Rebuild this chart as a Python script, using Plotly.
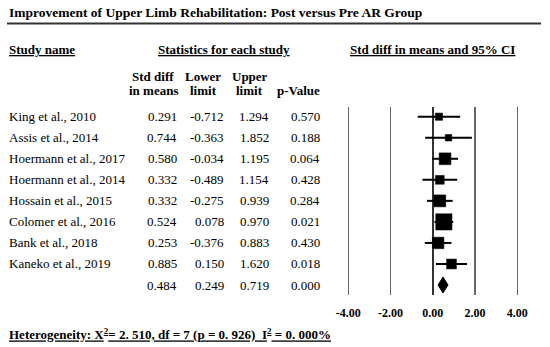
import numpy as np
import plotly.graph_objects as go

# ---------------- data ----------------
studies = ["King et al., 2010", "Assis et al., 2014", "Hoermann et al., 2017",
           "Hoermann et al., 2014", "Hossain et al., 2015", "Colomer et al., 2016",
           "Bank et al., 2018", "Kaneko et al., 2019"]
std_diff = [0.291, 0.744, 0.580, 0.332, 0.332, 0.524, 0.253, 0.885]
lower = [-0.712, -0.363, -0.034, -0.489, -0.275, 0.078, -0.376, 0.150]
upper = [1.294, 1.852, 1.195, 1.154, 0.939, 0.970, 0.883, 1.620]
p_values = [0.570, 0.188, 0.064, 0.428, 0.284, 0.021, 0.430, 0.018]
summary = {"est": 0.484, "lower": 0.249, "upper": 0.719, "p": 0.000}
x_ticks = [-4, -2, 0, 2, 4]

title = "Improvement of Upper Limb Rehabilitation: Post versus Pre AR Group"
footer = "Heterogeneity: X<sup>2</sup>= 2. 510, df = 7 (p = 0. 926)  I<sup>2</sup> = 0. 000%"

# ---------------- layout helpers ----------------
W, H = 550, 347
FONT = "Liberation Serif"
px = lambda v: v / W
py = lambda v: 1 - v / H

est = np.array(std_diff)
lo = np.array(lower)
hi = np.array(upper)
n = len(studies)
rows = np.arange(n)
se = (hi - lo) / 3.92
weights = 1 / se**2
sizes = 3.7 * np.sqrt(weights)

fig = go.Figure()

# CI lines + weighted squares
fig.add_trace(go.Scatter(
    x=est, y=rows, mode="markers",
    marker=dict(symbol="square", size=sizes, color="black", opacity=1,
                line=dict(width=0.5, color="black")),
    error_x=dict(type="data", symmetric=False, array=hi - est, arrayminus=est - lo,
                 thickness=2, width=0, color="black"),
    hoverinfo="skip", showlegend=False))

# summary diamond
dh = 0.38
fig.add_trace(go.Scatter(
    x=[summary["lower"], summary["est"], summary["upper"], summary["est"], summary["lower"]],
    y=[n, n - dh, n, n + dh, n],
    mode="lines", fill="toself", fillcolor="black", line=dict(color="black", width=1),
    hoverinfo="skip", showlegend=False))

ann = []
def txt(x, y, s, size=13, bold=False, xanchor="left", yref="paper", underline=False):
    t = s
    if underline:
        t = "<u>" + t + "</u>"
    if bold:
        t = "<b>" + t + "</b>"
    ann.append(dict(x=px(x), y=(y if yref == "y" else py(y)), xref="paper", yref=yref,
                    text=t, showarrow=False, xanchor=xanchor, yanchor="middle",
                    font=dict(family=FONT, size=size, color="black"),
                    borderpad=0, borderwidth=0))

txt(8.5, 13, title, size=13.5, bold=True)
txt(8.5, 50, "Study name", bold=True, underline=True)
txt(223.5, 50, "Statistics for each study", bold=True, xanchor="center", underline=True)
txt(432, 50, "Std diff in means and 95% CI", bold=True, xanchor="center", underline=True)

txt(153, 76, "Std diff", bold=True, xanchor="center")
txt(153, 90.5, "in means", bold=True, xanchor="center")
txt(203, 76, "Lower", bold=True, xanchor="center")
txt(203, 90.5, "limit", bold=True, xanchor="center")
txt(249.5, 76, "Upper", bold=True, xanchor="center")
txt(249.5, 90.5, "limit", bold=True, xanchor="center")
txt(299, 90.5, "p-Value", bold=True, xanchor="center")

cols_right = [177, 224, 269, 320]
for i in range(n):
    txt(8.5, i, studies[i], yref="y")
    for xr, v in zip(cols_right, [std_diff[i], lower[i], upper[i], p_values[i]]):
        txt(xr, i, f"{v:.3f}", xanchor="right", yref="y")
for xr, v in zip(cols_right, [summary["est"], summary["lower"], summary["upper"], summary["p"]]):
    txt(xr, n, f"{v:.3f}", xanchor="right", yref="y")

txt(8.5, 334, footer, bold=True, underline=True)

# axis geometry: -4 at 348.3px, 4 at 517.3px
scale = (517.3 - 348.3) / 8.0
xmin = -4 - 348.3 / scale
xmax = xmin + W / scale
top_px, bot_px = 107, 295
row_sp = 21.04
r_top = -(116.7 - top_px) / row_sp
r_bot = r_top + (bot_px - top_px) / row_sp

fig.update_layout(
    width=W, height=H, margin=dict(l=0, r=0, t=0, b=0),
    paper_bgcolor="white", plot_bgcolor="white",
    annotations=ann,
    shapes=[dict(type="line", xref="paper", yref="paper", x0=px(7), x1=px(541),
                 y0=py(23.5), y1=py(23.5), line=dict(color="#333", width=2))],
    xaxis=dict(domain=[0, 1], range=[xmin, xmax], tickvals=x_ticks,
               ticktext=[f"<b>{v:.2f}</b>" for v in x_ticks],
               tickfont=dict(family=FONT, size=12, color="black"),
               showgrid=True, gridcolor="#666", gridwidth=1.2,
               zeroline=True, zerolinecolor="#333", zerolinewidth=1.5,
               showline=False, ticks="", ticklabelstandoff=9, fixedrange=True),
    yaxis=dict(domain=[py(bot_px), py(top_px)], range=[r_bot, r_top],
               showgrid=False, zeroline=False, showticklabels=False, fixedrange=True),
)

fig.write_html("out.html", config={"displayModeBar": False, "staticPlot": True},
               post_script="document.body.style.margin='0';document.body.style.overflow='hidden';")
